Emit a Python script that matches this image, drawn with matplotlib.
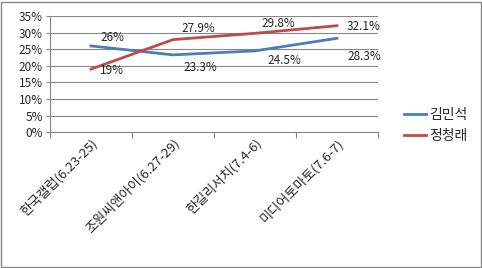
import numpy as np
import matplotlib.pyplot as plt
from matplotlib.patches import Rectangle

plt.rcParams['font.family'] = ['Noto Sans CJK KR', 'DejaVu Sans']

#%% data
categories = ['한국갤럽(6.23-25)', '조원씨앤아이(6.27-29)', '한길리서치(7.4-6)', '미디어토마토(7.6-7)']
kim = [26, 23.3, 24.5, 28.3]
jung = [19, 27.9, 29.8, 32.1]
kim_labels = ['26%', '23.3%', '24.5%', '28.3%']
jung_labels = ['19%', '27.9%', '29.8%', '32.1%']

blue = '#4A7EBB'
red = '#BE4B48'
gray = '#868686'
txt = '#262626'

fig = plt.figure(figsize=(4.82, 2.68), dpi=100)
ax = fig.add_axes([0.1037, 0.507, 0.6805, 0.433])

xx = np.arange(len(categories))
ax.plot(xx, kim, color=blue, lw=2, label='김민석')
ax.plot(xx, jung, color=red, lw=2, label='정청래')

# label offsets in pixels (dx, dy)
kim_off = [(22, 8), (27, -13), (29, -10), (27, -18)]
jung_off = [(21, -1), (25, 11), (23, 10), (27, -1)]
for i in range(len(xx)):
    ax.annotate(kim_labels[i], (xx[i], kim[i]), xytext=kim_off[i], textcoords='offset pixels',
                ha='center', va='center', fontsize=8.5, color=txt)
    ax.annotate(jung_labels[i], (xx[i], jung[i]), xytext=jung_off[i], textcoords='offset pixels',
                ha='center', va='center', fontsize=8.5, color=txt)

ax.set_xlim(-0.5, 3.5)
ax.set_ylim(0, 35)
ax.set_yticks(np.arange(0, 36, 5))
ax.set_yticklabels([f'{v}%' for v in range(0, 36, 5)], fontsize=8.5, color=txt)
ax.set_xticks(np.arange(-0.5, 4, 1))
ax.set_xticklabels([])
ax.set_xticks(xx, minor=True)
ax.set_xticklabels(categories, minor=True, rotation=45, ha='right', va='top',
                   rotation_mode='anchor', fontsize=9.5, color=txt)
ax.tick_params(axis='x', which='minor', length=0, pad=3)
ax.tick_params(axis='x', which='major', length=4, color=gray, direction='out')
ax.tick_params(axis='y', length=3, color=gray, pad=2)
ax.grid(axis='y', color=gray, lw=0.8)
ax.set_axisbelow(True)
for s in ['top', 'right']:
    ax.spines[s].set_visible(False)
for s in ['left', 'bottom']:
    ax.spines[s].set_color(gray)
    ax.spines[s].set_linewidth(0.8)

fig.legend(loc='upper left', bbox_to_anchor=(0.812, 0.645), frameon=False, fontsize=10,
           handlelength=1.6, handletextpad=0.2, labelspacing=0.5, labelcolor=txt)

fig.patches.append(Rectangle((0.002, 0.004), 0.995, 0.99, transform=fig.transFigure,
                             fill=False, edgecolor=gray, lw=1))

fig.savefig('out.png', dpi=100)
